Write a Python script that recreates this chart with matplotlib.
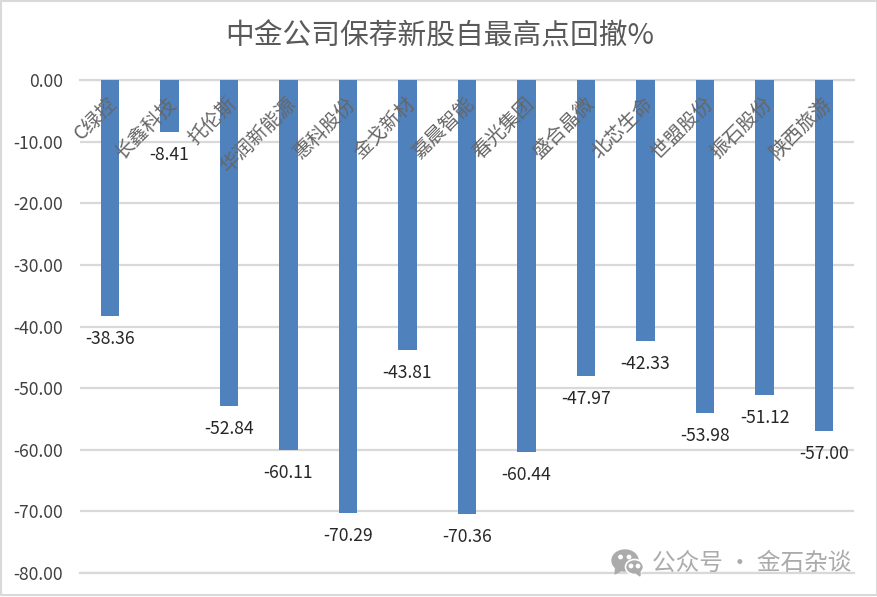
import matplotlib
matplotlib.use("Agg")
import matplotlib.pyplot as plt
from matplotlib.patches import Ellipse, Rectangle, Polygon

plt.rcParams['font.family'] = ['Noto Sans CJK SC', 'DejaVu Sans']

categories = ['C绿控', '长鑫科技', '托伦斯', '华润新能源', '惠科股份', '金戈新材', '嘉晨智能',
              '春光集团', '盛合晶微', '北芯生命', '世盟股份', '振石股份', '陕西旅游']
values = [-38.36, -8.41, -52.84, -60.11, -70.29, -43.81, -70.36,
          -60.44, -47.97, -42.33, -53.98, -51.12, -57.00]
yticks = [0, -10, -20, -30, -40, -50, -60, -70, -80]
title = '中金公司保荐新股自最高点回撤%'
watermark = '公众号 · 金石杂谈'

W, H = 878, 597
fig = plt.figure(figsize=(W / 100, H / 100), dpi=100, facecolor='white')
ax = fig.add_axes([80 / W, 1 - 573 / H, 774 / W, 493 / H])
ax.set_facecolor('white')

x = list(range(len(categories)))
ax.bar(x, values, width=0.31, color='#4F81BD', zorder=3)
ax.set_xlim(-0.5, len(categories) - 0.5)
ax.set_ylim(-80, 0)

ax.set_yticks(yticks)
ax.set_yticklabels([f'{v:.2f}' for v in yticks], fontsize=12.6, color='#404040')
ax.yaxis.grid(True, color='#D9D9D9', linewidth=1.6, zorder=1)
ax.set_axisbelow(True)
ax.tick_params(axis='both', length=0)
ax.tick_params(axis='y', pad=12)
ax.set_xticks([])
for s in ax.spines.values():
    s.set_visible(False)
for side in ['top', 'bottom']:
    ax.spines[side].set_visible(True)
    ax.spines[side].set_color('#D9D9D9')
    ax.spines[side].set_linewidth(1.6)

for xi, v, c in zip(x, values, categories):
    ax.annotate(f'{v:.2f}', (xi, v), xytext=(0, -23 * 0.72), textcoords='offset points',
                ha='center', va='center', fontsize=12.6, color='#262626', zorder=5)
    ax.annotate(c, (xi, 0), xytext=(-3 * 0.72, -13 * 0.72), textcoords='offset points',
                ha='right', va='top', rotation=45, rotation_mode='anchor',
                fontsize=14, color='#666666', zorder=6)

fig.text(440 / W, 1 - 37 / H, title, ha='center', va='center', fontsize=20.7, color='#595959')

# watermark
wm = '#ABABAB'
fig.text(652 / W, 1 - 563 / H, watermark, ha='left', va='center', fontsize=17, color=wm, zorder=10)
ov = fig.add_axes([0, 0, 1, 1], facecolor='none')
ov.set_xlim(0, W); ov.set_ylim(H, 0); ov.axis('off')
ov.add_patch(Ellipse((625, 560.5), 26, 21, color=wm, zorder=4))
ov.add_patch(Polygon([[616, 565], [615, 574], [624, 569]], color=wm, zorder=4))
ov.add_patch(Ellipse((634.5, 567), 18, 15, fc=wm, ec='white', lw=1.2, zorder=5))
ov.add_patch(Polygon([[636, 573], [640, 576], [640, 571]], color=wm, zorder=5))
for ex, ey in [(620.5, 557), (629, 557), (631, 566), (638, 566)]:
    ov.add_patch(Ellipse((ex, ey), 3.4, 3.4, color='white', zorder=6))

# outer border
ov.add_patch(Rectangle((1, 1), W - 2, H - 3, fill=False, ec='#D9D9D9', lw=1.5, zorder=7))

fig.savefig('out.png', dpi=100, facecolor='white')
